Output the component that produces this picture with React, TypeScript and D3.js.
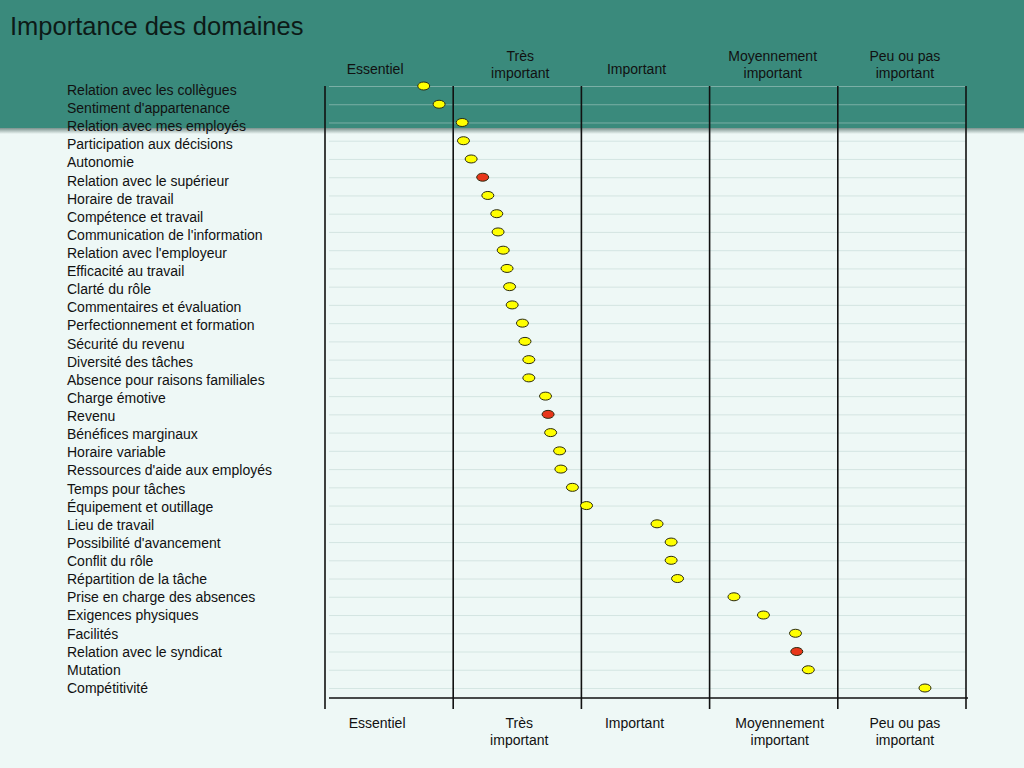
import { useEffect, useRef } from "react";
import * as d3 from "d3";

// Domain labels, top to bottom
const DOMAINS = [
  "Relation avec les collègues",
  "Sentiment d'appartenance",
  "Relation avec mes employés",
  "Participation aux décisions",
  "Autonomie",
  "Relation avec le supérieur",
  "Horaire de travail",
  "Compétence et travail",
  "Communication de l'information",
  "Relation avec l'employeur",
  "Efficacité au travail",
  "Clarté du rôle",
  "Commentaires et évaluation",
  "Perfectionnement et formation",
  "Sécurité du revenu",
  "Diversité des tâches",
  "Absence pour raisons familiales",
  "Charge émotive",
  "Revenu",
  "Bénéfices marginaux",
  "Horaire variable",
  "Ressources d'aide aux employés",
  "Temps pour tâches",
  "Équipement et outillage",
  "Lieu de travail",
  "Possibilité d'avancement",
  "Conflit du rôle",
  "Répartition de la tâche",
  "Prise en charge des absences",
  "Exigences physiques",
  "Facilités",
  "Relation avec le syndicat",
  "Mutation",
  "Compétitivité",
];

// Mean importance score (1 = Essentiel … 6 = end of "Peu ou pas important")
const SCORES = [
  1.77, 1.89, 2.07, 2.08, 2.14, 2.23, 2.27, 2.34, 2.35, 2.39, 2.42, 2.44,
  2.46, 2.54, 2.56, 2.59, 2.59, 2.72, 2.74, 2.76, 2.83, 2.84, 2.93, 3.04,
  3.59, 3.7, 3.7, 3.75, 4.19, 4.42, 4.67, 4.68, 4.77, 5.68,
];

// Highlighted domains (red dots)
const HIGHLIGHT = ["Relation avec le supérieur", "Revenu", "Relation avec le syndicat"];

// Column categories, split on two lines
const CATEGORIES = [
  ["Essentiel"],
  ["Très", "important"],
  ["Important"],
  ["Moyennement", "important"],
  ["Peu ou pas", "important"],
];
const CATEGORY_BOUNDS = [1, 2, 3, 4, 5, 6];

const FONT = "'Liberation Sans', Arial, sans-serif";

export default function App() {
  const svgRef = useRef<SVGSVGElement>(null);

  useEffect(() => {
    const svgEl = svgRef.current;
    if (!svgEl) return;

    const width = 1024;
    const height = 768;
    const svg = d3.select(svgEl).attr("width", width).attr("height", height);
    svg.selectAll("*").remove();

    // ── background + header band ─────────────────────────────────────────────
    const defs = svg.append("defs");
    const grad = defs
      .append("linearGradient")
      .attr("id", "shadow")
      .attr("x1", 0).attr("y1", 0).attr("x2", 0).attr("y2", 1);
    grad.append("stop").attr("offset", "0%").attr("stop-color", "#1d3d37").attr("stop-opacity", 0.55);
    grad.append("stop").attr("offset", "100%").attr("stop-color", "#1d3d37").attr("stop-opacity", 0);

    svg.append("rect").attr("width", width).attr("height", height).attr("fill", "#eef8f6");
    svg.append("rect").attr("y", 128).attr("width", width).attr("height", 6).attr("fill", "url(#shadow)");
    svg.append("rect").attr("width", width).attr("height", 128).attr("fill", "#3a8a7c");

    svg
      .append("text")
      .attr("x", 10)
      .attr("y", 35)
      .attr("font-family", FONT)
      .attr("font-size", 25.5)
      .attr("fill", "#0d1a17")
      .text("Importance des domaines");

    // ── scales ───────────────────────────────────────────────────────────────
    const x = d3.scaleLinear().domain([1, 6]).range([325, 966]);
    const yDot = d3.scalePoint<string>().domain(DOMAINS).range([86, 688]);
    const yLabel = d3.scalePoint<string>().domain(DOMAINS).range([90, 688]);

    // ── gridlines ────────────────────────────────────────────────────────────
    svg
      .append("g")
      .selectAll("line")
      .data(DOMAINS)
      .join("line")
      .attr("x1", x(1) + 4)
      .attr("x2", x(6))
      .attr("y1", (d) => yDot(d)! + 0.5)
      .attr("y2", (d) => yDot(d)! + 0.5)
      .attr("stroke", "#bcd4d0")
      .attr("stroke-opacity", 0.5)
      .attr("stroke-width", 1);

    // ── row labels ───────────────────────────────────────────────────────────
    svg
      .append("g")
      .selectAll("text")
      .data(DOMAINS)
      .join("text")
      .attr("x", 67)
      .attr("y", (d) => yLabel(d)!)
      .attr("dy", "0.35em")
      .attr("font-family", FONT)
      .attr("font-size", 14)
      .attr("fill", "#111")
      .text((d) => d);

    // ── vertical separators + baseline ───────────────────────────────────────
    svg
      .append("g")
      .selectAll("line")
      .data(CATEGORY_BOUNDS)
      .join("line")
      .attr("x1", (d) => x(d))
      .attr("x2", (d) => x(d))
      .attr("y1", 86)
      .attr("y2", 709)
      .attr("stroke", "#111")
      .attr("stroke-width", 1.6);

    svg
      .append("line")
      .attr("x1", x(1) + 4)
      .attr("x2", x(6) + 2)
      .attr("y1", 698)
      .attr("y2", 698)
      .attr("stroke", "#111")
      .attr("stroke-width", 1.6);

    // ── category labels (top and bottom) ─────────────────────────────────────
    const catCenters = CATEGORIES.map((_, i) => (x(CATEGORY_BOUNDS[i]) + x(CATEGORY_BOUNDS[i + 1])) / 2);
    const drawCats = (yOne: number, yTwo: number, shift: number[]) => {
      const g = svg.append("g").attr("font-family", FONT).attr("font-size", 14).attr("fill", "#111");
      CATEGORIES.forEach((lines, i) => {
        const cx = catCenters[i] + shift[i];
        if (lines.length === 1) {
          g.append("text").attr("x", cx).attr("y", yOne).attr("text-anchor", "middle").text(lines[0]);
        } else {
          lines.forEach((l, j) =>
            g.append("text").attr("x", cx).attr("y", yTwo + j * 17).attr("text-anchor", "middle").text(l)
          );
        }
      });
    };
    drawCats(74, 61, [-14, 3, -9, -1, 3]);
    drawCats(728, 728, [-12, 2, -11, 6, 3]);

    // ── dots ─────────────────────────────────────────────────────────────────
    svg
      .append("g")
      .selectAll("ellipse")
      .data(DOMAINS)
      .join("ellipse")
      .attr("cx", (_, i) => x(SCORES[i]))
      .attr("cy", (d) => yDot(d)!)
      .attr("rx", 6)
      .attr("ry", 4)
      .attr("fill", (d) => (HIGHLIGHT.includes(d) ? "#e8361a" : "#ffff00"))
      .attr("stroke", "#2a2a10")
      .attr("stroke-width", 1);
  }, []);

  return (
    <div style={{ position: "absolute", left: 0, top: 0, width: 1024, height: 768 }}>
      <svg ref={svgRef} style={{ display: "block" }} />
    </div>
  );
}
